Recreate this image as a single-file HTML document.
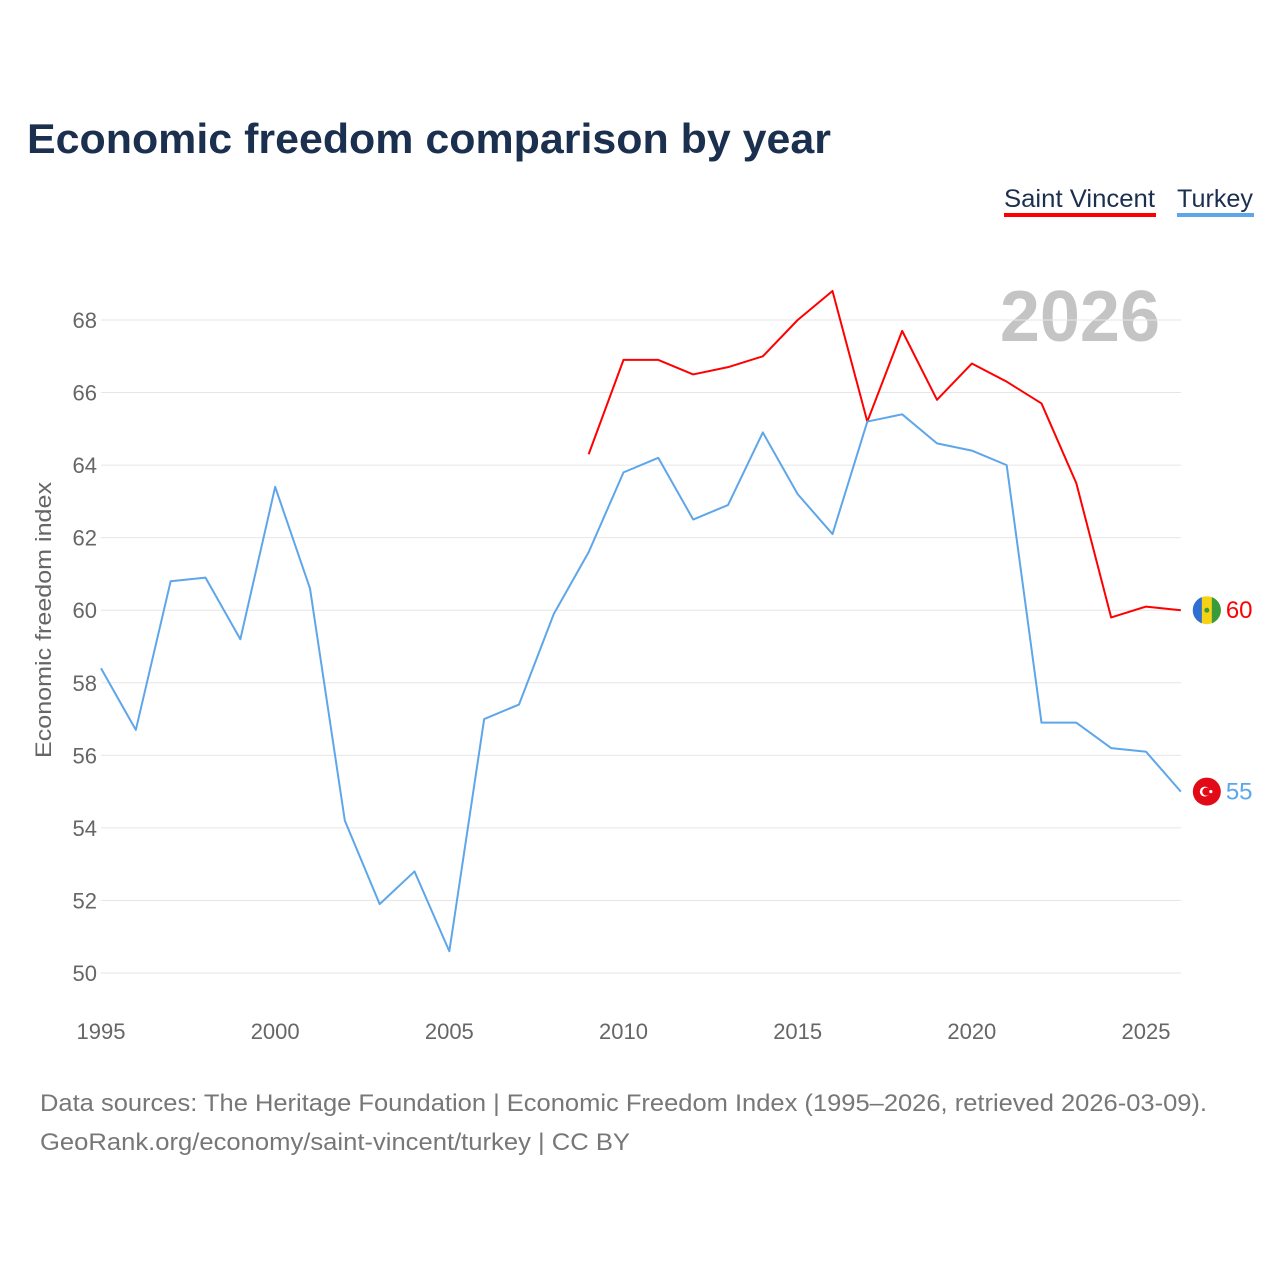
<!DOCTYPE html>
<html><head><meta charset="utf-8"><style>
body{margin:0;background:#fff;font-family:"Liberation Sans",sans-serif;}
</style></head><body>
<svg width="1280" height="1280" xmlns="http://www.w3.org/2000/svg" style="font-family:'Liberation Sans',sans-serif">
<text x="27" y="153" font-size="42" font-weight="bold" fill="#1b2f4e" textLength="804" lengthAdjust="spacingAndGlyphs">Economic freedom comparison by year</text>
<g>
<text x="1004" y="207" font-size="25" fill="#1b2f4e" textLength="151" lengthAdjust="spacingAndGlyphs">Saint Vincent</text>
<rect x="1004" y="213" width="152" height="4" fill="#ff0000"/>
<text x="1177" y="207" font-size="25" fill="#1b2f4e" textLength="76" lengthAdjust="spacingAndGlyphs">Turkey</text>
<rect x="1177" y="213" width="77" height="4" fill="#5ea6ea"/>
</g>
<text x="1160" y="341" font-size="72" font-weight="bold" fill="#c4c4c4" text-anchor="end">2026</text>
<g id="grid"></g><g id="xt"></g>
<text transform="translate(51,620) rotate(-90)" font-size="22" fill="#666" text-anchor="middle" textLength="276" lengthAdjust="spacingAndGlyphs">Economic freedom index</text>
<g id="series"></g>
<text x="40" y="1111" font-size="24" fill="#777" textLength="1167" lengthAdjust="spacingAndGlyphs">Data sources: The Heritage Foundation | Economic Freedom Index (1995–2026, retrieved 2026-03-09).</text>
<text x="40" y="1150" font-size="24" fill="#777" textLength="590" lengthAdjust="spacingAndGlyphs">GeoRank.org/economy/saint-vincent/turkey | CC BY</text>
</svg>
<script>
const years=[1995,1996,1997,1998,1999,2000,2001,2002,2003,2004,2005,2006,2007,2008,2009,2010,2011,2012,2013,2014,2015,2016,2017,2018,2019,2020,2021,2022,2023,2024,2025,2026];
const turkey=[58.4,56.7,60.8,60.9,59.2,63.4,60.6,54.2,51.9,52.8,50.6,57.0,57.4,59.9,61.6,63.8,64.2,62.5,62.9,64.9,63.2,62.1,65.2,65.4,64.6,64.4,64.0,56.9,56.9,56.2,56.1,55.0];
const svgYears=[2009,2010,2011,2012,2013,2014,2015,2016,2017,2018,2019,2020,2021,2022,2023,2024,2025,2026];
const saintVincent=[64.3,66.9,66.9,66.5,66.7,67.0,68.0,68.8,65.2,67.7,65.8,66.8,66.3,65.7,63.5,59.8,60.1,60.0];
const yTicks=[50,52,54,56,58,60,62,64,66,68];
const xTicks=[1995,2000,2005,2010,2015,2020,2025];
const NS="http://www.w3.org/2000/svg";
const X=y=>101+(y-1995)*(1045/30);
const Y=v=>973-(v-50)*(653/18);
function mk(t,a,p){const e=document.createElementNS(NS,t);for(const k in a)e.setAttribute(k,a[k]);p.appendChild(e);return e;}
const grid=document.getElementById('grid'),xt=document.getElementById('xt'),ser=document.getElementById('series');
yTicks.forEach(v=>{
 const l=mk('line',{x1:101,x2:1181,y1:Y(v),y2:Y(v),stroke:'#e6e6e6','stroke-width':1},grid);
 
 
 const t=mk('text',{x:97,y:Y(v)+8,'font-size':22,fill:'#666','text-anchor':'end'},grid);t.textContent=v;
 
 
});
xTicks.forEach(v=>{
 const t=mk('text',{x:X(v),y:1039,'font-size':22,fill:'#666','text-anchor':'middle'},xt);t.textContent=v;
 
 
});
function line(xs,vs,c,name){
 const p=mk('polyline',{points:xs.map((y,i)=>X(y)+','+Y(vs[i])).join(' '),fill:'none',stroke:c,'stroke-width':2,'stroke-linejoin':'round'},ser);
 
 
}
line(svgYears,saintVincent,'#ff0000','line-saint-vincent');
line(years,turkey,'#5ea6ea','line-turkey');
function endLabel(xv,v,c,name,flag){
 const g=mk('g',{},ser);
 
 
 const cx=X(xv)+26,cy=Y(v);
 if(flag==='vc'){
  mk('circle',{cx:cx,cy:cy,r:14,fill:'#f7d116'},g);
  mk('path',{d:`M${cx-5} ${cy-13.1} A14 14 0 0 0 ${cx-5} ${cy+13.1} Z`,fill:'#2f6fd3'},g);
  mk('path',{d:`M${cx+5} ${cy-13.1} A14 14 0 0 1 ${cx+5} ${cy+13.1} Z`,fill:'#3a9b3a'},g);
  mk('circle',{cx:cx,cy:cy,r:2.5,fill:'#3a9b3a'},g);
 }else{
  mk('circle',{cx:cx,cy:cy,r:14,fill:'#e30a17'},g);
  mk('circle',{cx:cx-2,cy:cy,r:5,fill:'#fff'},g);
  mk('circle',{cx:cx-0.5,cy:cy,r:4,fill:'#e30a17'},g);
  mk('circle',{cx:cx+4,cy:cy,r:1.6,fill:'#fff'},g);
 }
 const t=mk('text',{x:cx+19,y:cy+8,'font-size':24,fill:c},g);t.textContent=Math.round(v);
}
endLabel(2026,saintVincent[saintVincent.length-1],'#ff0000','end-label-saint-vincent','vc');
endLabel(2026,turkey[turkey.length-1],'#5ea6ea','end-label-turkey','tr');
</script>
</body></html>
